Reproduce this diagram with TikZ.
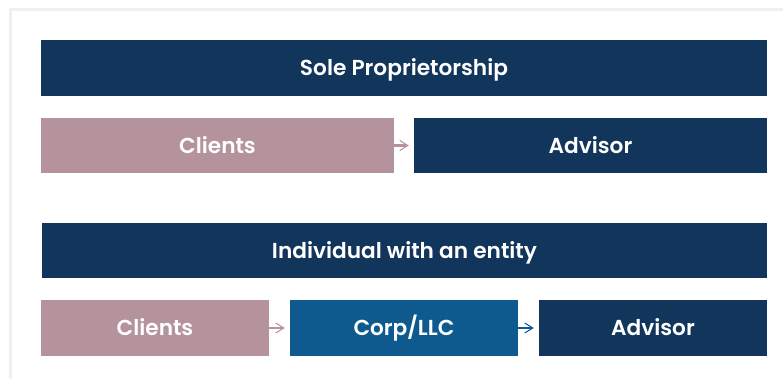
\documentclass[tikz,border=0pt]{standalone}
\usepackage{fontspec}
\setmainfont{Poppins}[BoldFont={Poppins SemiBold}]
\usetikzlibrary{arrows.meta}
\definecolor{firmNavy}{RGB}{18, 53, 91}
\definecolor{firmBlue}{RGB}{14, 90, 142}
\definecolor{firmMauve}{RGB}{181, 147, 156}
\definecolor{firmFrame}{RGB}{240, 240, 240}

\begin{document}
\begin{tikzpicture}[every node/.style={text=white, font=\fontsize{18.5}{22}\selectfont\bfseries, inner sep=0pt, text height=0.46cm, text depth=0cm}]
    \useasboundingbox (0,0) rectangle (23.49,11.37);
    % Frame
    \draw[firmFrame, line width=0.09cm] (23.49,11.07) -- (0.3,11.07) -- (0.3,0);

    % Sole proprietorship
    \node[fill=firmNavy, minimum width=21.78cm, minimum height=1.68cm] (sole) at (12.12,9.33) {Sole Proprietorship};
    \node[fill=firmMauve, minimum width=10.59cm, minimum height=1.65cm] (clients1) at (6.525,7.005) {Clients};
    \node[fill=firmNavy, minimum width=10.59cm, minimum height=1.65cm] (advisor1) at (17.715,7.005) {Advisor};

    % Individual with an entity
    \node[fill=firmNavy, minimum width=21.75cm, minimum height=1.65cm] (entity) at (12.135,3.855) {Individual with an entity};
    \node[fill=firmMauve, minimum width=6.84cm, minimum height=1.68cm] (clients2) at (4.65,1.53) {Clients};
    \node[fill=firmBlue, minimum width=6.84cm, minimum height=1.68cm] (corp) at (12.12,1.53) {Corp/LLC};
    \node[fill=firmNavy, minimum width=6.84cm, minimum height=1.68cm] (advisor2) at (19.59,1.53) {Advisor};

    % Arrows
    \draw[-{Straight Barb[length=0.24cm, width=0.3cm, line width=0.9pt]}, line width=1.8pt, shorten >=0.15cm, firmMauve] (clients1) -- (advisor1);
    \draw[-{Straight Barb[length=0.24cm, width=0.3cm, line width=0.9pt]}, line width=1.8pt, shorten >=0.15cm, firmMauve] (clients2) -- (corp);
    \draw[-{Straight Barb[length=0.24cm, width=0.3cm, line width=0.9pt]}, line width=1.8pt, shorten >=0.15cm, firmBlue] (corp) -- (advisor2);
\end{tikzpicture}
\end{document}
